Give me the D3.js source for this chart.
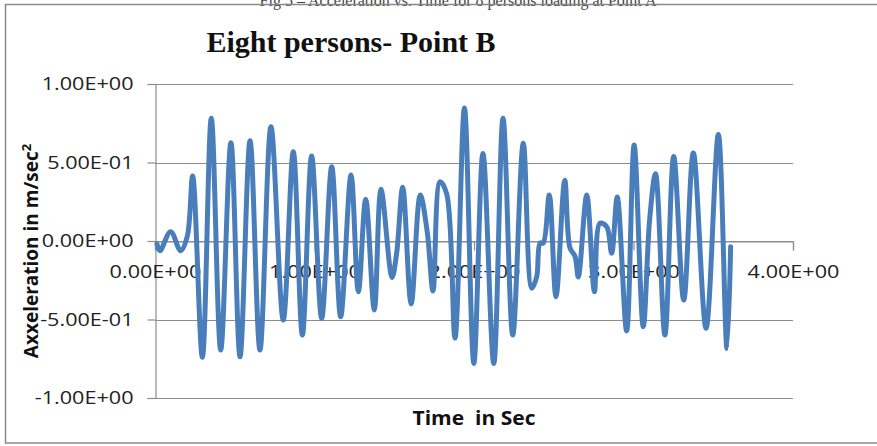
<!DOCTYPE html>
<html>
<head>
<meta charset="utf-8">
<script src="https://cdn.jsdelivr.net/npm/d3@7"></script>
<style>
  html, body { margin: 0; padding: 0; background: #fff; }
  svg { display: block; }
</style>
</head>
<body>
<svg id="chart" width="877" height="446"></svg>
<script>
// valeurs (extrema de la courbe)
const timeSec = [0.0125, 0.031, 0.098, 0.161, 0.203, 0.236, 0.297, 0.353, 0.412, 0.476,
  0.533, 0.596, 0.658, 0.727, 0.804, 0.867, 0.924, 0.982, 1.045, 1.108,
  1.164, 1.229, 1.275, 1.321, 1.375, 1.417, 1.486, 1.515, 1.553, 1.606,
  1.663, 1.707, 1.743, 1.787, 1.829, 1.881, 1.940, 1.999, 2.056, 2.124,
  2.182, 2.243, 2.309, 2.362, 2.393, 2.414, 2.434, 2.472, 2.514, 2.569,
  2.602, 2.633, 2.654, 2.707, 2.755, 2.790, 2.832, 2.863, 2.898, 2.957,
  3.004, 3.061, 3.101, 3.138, 3.197, 3.252, 3.315, 3.375, 3.455, 3.532,
  3.586, 3.609];
const accel = [-0.019, -0.062, 0.059, -0.062, 0.032, 0.414, -0.741, 0.782, -0.694, 0.626,
  -0.737, 0.639, -0.694, 0.728, -0.503, 0.569, -0.599, 0.541, -0.492, 0.473,
  -0.482, 0.420, -0.323, 0.266, -0.439, 0.329, -0.232, -0.078, 0.342, -0.401,
  0.293, 0.057, -0.318, 0.378, 0.299, -0.618, 0.847, -0.780, 0.558, -0.780,
  0.782, -0.599, 0.622, -0.301, -0.229, -0.013, -0.013, 0.293, -0.355, 0.387,
  -0.045, -0.096, -0.229, 0.293, -0.323, 0.113, 0.091, -0.078, 0.280, -0.573,
  0.611, -0.546, 0.134, 0.429, -0.599, 0.539, -0.376, 0.561, -0.556, 0.678,
  -0.685, -0.036];
const xTicks = [0, 1, 2, 3, 4];
const xTickLabels = ["0.00E+00", "1.00E+00", "2.00E+00", "3.00E+00", "4.00E+00"];
const yTicks = [1, 0.5, 0, -0.5, -1];
const yTickLabels = ["1.00E+00", "5.00E-01", "0.00E+00", "-5.00E-01", "-1.00E+00"];

const svg = d3.select("#chart");
const gridColor = "#8c8c8c";
const lblFont = "'Open Sans', 'Liberation Sans', sans-serif";

const x = d3.scaleLinear().domain([0, 4]).range([155, 793]);
const y = d3.scaleLinear().domain([-1, 1]).range([398, 84]);

// légende de la page, coupée en haut comme sur l'original
svg.append("text")
  .attr("x", 458).attr("y", 6)
  .attr("text-anchor", "middle")
  .attr("font-family", "'Liberation Serif', serif")
  .attr("font-size", 16)
  .attr("fill", "#444")
  .text("Fig 5 – Acceleration vs. Time for 8 persons loading at Point A");

// cadre
svg.append("rect")
  .attr("x", 5.5).attr("y", 4.5)
  .attr("width", 890).attr("height", 438.5)
  .attr("fill", "none")
  .attr("stroke", "#8a8a8a")
  .attr("stroke-width", 1.5);

// titre
svg.append("text")
  .attr("x", 351).attr("y", 52)
  .attr("text-anchor", "middle")
  .attr("font-family", "'Liberation Serif', 'Times New Roman', serif")
  .attr("font-weight", "bold")
  .attr("font-size", 30)
  .attr("fill", "#111")
  .text("Eight persons- Point B");

// grille horizontale
svg.append("g")
  .selectAll("line")
  .data(yTicks)
  .enter().append("line")
  .attr("x1", x(0)).attr("x2", x(4))
  .attr("y1", d => Math.round(y(d)) + 0.5)
  .attr("y2", d => Math.round(y(d)) + 0.5)
  .attr("stroke", gridColor)
  .attr("stroke-width", 1.2);

// axe Y
const yAxis = svg.append("g")
  .attr("transform", `translate(${x(0) + 0.5},0)`)
  .call(d3.axisLeft(y).tickValues(yTicks).tickSize(8).tickPadding(14)
    .tickFormat((d, i) => yTickLabels[i]));
yAxis.select(".domain").attr("stroke", gridColor).attr("stroke-width", 1.2);
yAxis.selectAll(".tick line").attr("stroke", gridColor).attr("stroke-width", 1.2);
yAxis.selectAll(".tick text")
  .attr("font-family", lblFont)
  .attr("font-size", 18)
  .attr("fill", "#222");

// axe X (sur y = 0)
const xAxis = svg.append("g")
  .attr("transform", `translate(0,${Math.round(y(0)) + 0.5})`)
  .call(d3.axisBottom(x).tickValues(xTicks).tickSize(9).tickPadding(15)
    .tickFormat((d, i) => xTickLabels[i]));
xAxis.select(".domain").attr("stroke", gridColor).attr("stroke-width", 1.2);
xAxis.selectAll(".tick line").attr("stroke", gridColor).attr("stroke-width", 1.2);
xAxis.selectAll(".tick text")
  .attr("font-family", lblFont)
  .attr("font-size", 18)
  .attr("fill", "#222");

// étirement horizontal des étiquettes comme sur l'image
svg.selectAll(".tick text").each(function () {
  const w = this.getComputedTextLength();
  d3.select(this).attr("textLength", w * 1.2).attr("lengthAdjust", "spacingAndGlyphs");
});

// courbe
const pts = timeSec.map((t, i) => [t, accel[i]]);
svg.append("path")
  .datum(pts)
  .attr("fill", "none")
  .attr("stroke", "#4a7ebb")
  .attr("stroke-width", 5)
  .attr("stroke-linejoin", "round")
  .attr("stroke-linecap", "round")
  .attr("d", d3.line()
    .x(d => x(d[0]))
    .y(d => y(d[1]))
    .curve(d3.curveCatmullRom.alpha(0.5)));

// titres des axes
svg.append("text")
  .attr("x", 474).attr("y", 425)
  .attr("text-anchor", "middle")
  .attr("font-family", lblFont)
  .attr("font-weight", "bold")
  .attr("font-size", 19)
  .attr("fill", "#111")
  .attr("textLength", 123)
  .attr("lengthAdjust", "spacingAndGlyphs")
  .attr("xml:space", "preserve")
  .text("Time  in Sec");

const yt = svg.append("text")
  .attr("transform", "translate(38,251) rotate(-90)")
  .attr("text-anchor", "middle")
  .attr("font-family", lblFont)
  .attr("font-weight", "bold")
  .attr("font-size", 19)
  .attr("fill", "#111");
yt.append("tspan").text("Axxeleration in m/sec");
yt.append("tspan").attr("dy", -7).attr("font-size", 13).text("2");
</script>
</body>
</html>
